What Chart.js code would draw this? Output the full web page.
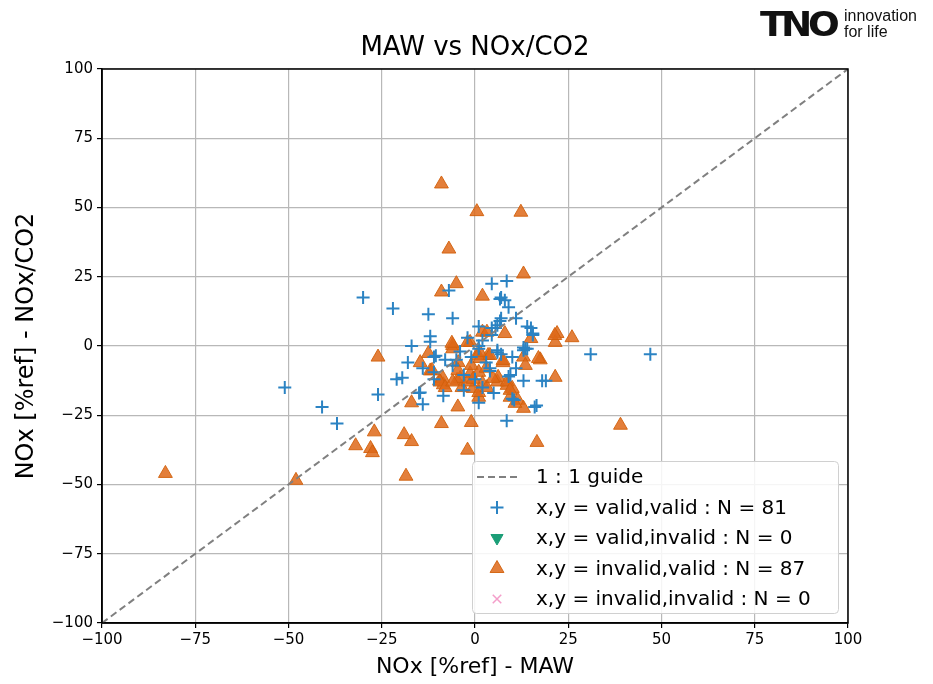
<!DOCTYPE html>
<html>
<head>
<meta charset="utf-8">
<script src="https://cdn.jsdelivr.net/npm/chart.js@4"></script>
<style>
  body { margin: 0; background: #fff; }
  #wrap { position: relative; width: 933px; height: 684px; }
  #logo { position: absolute; left: 760px; top: 6px; font-family: "DejaVu Sans", sans-serif; color: #111; }
  #logo .tno { position: absolute; left: 0; top: -2px; font-weight: 900; font-size: 34px; letter-spacing: -4px; transform: scaleX(1.1); transform-origin: left; }
  #logo .tag { position: absolute; left: 84px; top: 2px; font-size: 16px; line-height: 16px; white-space: nowrap; font-family: "Liberation Sans", sans-serif; }
</style>
</head>
<body>
<div id="wrap">
  <canvas id="myChart" width="933" height="684"></canvas>
  <div id="logo"><span class="tno">TNO</span><span class="tag">innovation<br>for life</span></div>
</div>
<script>
// Values: NOx [%ref] MAW (x) vs NOx/CO2 (y)
const ticks = [-100, -75, -50, -25, 0, 25, 50, 75, 100];

const validValid = [
  [-51, -15], [-41, -22], [-37, -28], [-30, 17.5], [-26, -17.5], [-22, 13.5],
  [-21, -12], [-19.5, -11.5], [-18, -6], [-17, 0], [-15, -17], [-14.7, -16.8],
  [-14, -21], [-12.5, 11.5], [-12, 3.5], [-12, 1.5], [-11, -4], [-11, -9.5],
  [-11, -12], [-10.5, -3.5], [-8.5, -18], [-7, 20], [-6, 10], [-6, -7],
  [-3, -10.5], [-1, -4], [1, 7], [1, 0], [1, -1], [1, -20.5], [4.5, 22.5],
  [4.5, 6.5], [4.5, 4], [4, -8], [4, -9], [5.5, 6.5], [6, 7.5], [6, -1.5],
  [6, -2.3], [6.7, 17], [7, 17.5], [8, 16.5], [7, 10], [6.7, 9], [7, -3],
  [8.5, 23.5], [9, 14], [9, -11], [9.5, -10.5], [10, -4], [10, -19],
  [10.5, -19.5], [11, 10], [8.5, -27], [13, -1.5], [13.5, -1], [13, -0.5],
  [13, -12.5], [14, -1], [14, 7], [15, 6.5], [15.5, 4], [15.5, 4.5], [16, -22],
  [16.5, -21.5], [18, -12.5], [19, -12.5], [31, -3], [47, -3],
  [-2, 3], [2, 2], [3, -6], [-4, -2], [-8, -5], [0, -12], [2, -15], [-3, -16],
  [5, -17], [11, -8], [-14, -8], [-5, -5]
];

const validInvalid = [];

const invalidValid = [
  [-83, -46], [-48, -48.5], [-9, 58.5], [0.5, 48.5], [12.3, 48.3], [-7, 35],
  [-9, 19.5], [-5, 22.5], [2, 18], [13, 26], [-26, -4], [-17, -20.5], [-9, -28],
  [-27, -31], [-32, -36], [-28, -37], [-27.5, -38.5], [-19, -32], [-17, -34.5],
  [-18.5, -47], [-12.5, -2.7], [-14.7, -6], [-12, -9], [-9.5, -12.5],
  [-8.5, -14], [2, 5], [8, 4.5], [15, 2.7], [22, 4.5], [26, 3], [21.5, 1.3],
  [-1.3, 1.3], [-6, 0.2], [-4.5, -6], [0.5, -3.4], [3.5, -3.4], [7.5, -6],
  [13, -4], [13.5, -7], [17.5, -5], [21.5, -11.3], [-4.8, -12.4], [-3.5, -15],
  [-1.3, -10], [2, -13.5], [-0.5, -15.3], [6, -13], [8.6, -14.2], [10, -15.3],
  [9.4, -18.5], [11.5, -19.6], [13, -22.5], [-4.6, -22], [1, -18.5],
  [-1, -27.6], [-2, -37.6], [16.6, -34.8], [39, -28.6], [-8.6, -11.7],
  [-9.4, -13], [-8, -15], [-4, -11.7], [-2, -13], [-1, -7], [1, -9.5],
  [1.3, -4.5], [-4.6, -8.8], [-11.5, -8.8], [-6, -1], [1, -16.8], [1.3, -2.3],
  [4, -3.4], [7.5, -5.2], [17, -4.5], [6.2, -11.3], [8.6, -13], [9.4, -16],
  [10.7, -20.7], [3.2, -15], [4.8, -11.7], [21.4, 3.8], [3.2, 5], [-6.2, 1],
  [-2, 1.3], [-0.5, -12], [3, -8], [-6, -13]
];

const invalidInvalid = [];

const guide = [[-100, -100], [100, 100]];

const toPts = (arr) => arr.map(([x, y]) => ({ x, y }));
const minus = (v) => String(v).replace("-", "\u2212");

// Draw a matplotlib-like legend box inside the plot area
const boxLegend = {
  id: "boxLegend",
  afterDraw(chart) {
    const ctx = chart.ctx;
    const x0 = 472, y0 = 461, w = 366, h = 152;
    ctx.save();
    ctx.fillStyle = "rgba(255,255,255,0.85)";
    ctx.strokeStyle = "#d0d0d0";
    ctx.lineWidth = 1;
    ctx.beginPath();
    ctx.roundRect(x0 + 0.5, y0 + 0.5, w, h, 4);
    ctx.fill();
    ctx.stroke();

    ctx.font = "20px 'DejaVu Sans'";
    ctx.textBaseline = "middle";
    chart.data.datasets.forEach((ds, i) => {
      const y = y0 + 16 + i * 30.5;
      if (ds.type === "line") {
        ctx.strokeStyle = ds.borderColor;
        ctx.lineWidth = ds.borderWidth;
        ctx.setLineDash(ds.borderDash);
        ctx.beginPath();
        ctx.moveTo(477, y);
        ctx.lineTo(517, y);
        ctx.stroke();
        ctx.setLineDash([]);
      } else {
        ctx.fillStyle = ds.backgroundColor;
        ctx.strokeStyle = ds.borderColor;
        ctx.lineWidth = ds.borderWidth;
        Chart.helpers.drawPoint(ctx, {
          pointStyle: ds.pointStyle,
          radius: ds.pointRadius,
          rotation: ds.rotation || 0,
          borderWidth: ds.borderWidth
        }, 497, y);
      }
      ctx.fillStyle = "#000";
      ctx.fillText(ds.label, 536, y + 1);
    });
    ctx.restore();
  }
};

// Title centred over the plot area, as matplotlib does
const axesTitle = {
  id: "axesTitle",
  afterDraw(chart) {
    const { left, right } = chart.chartArea;
    const c = chart.ctx;
    c.save();
    c.font = "26px 'DejaVu Sans'";
    c.fillStyle = "#000";
    c.textAlign = "center";
    c.textBaseline = "middle";
    c.fillText("MAW vs NOx/CO2", (left + right) / 2, 48);
    c.restore();
  }
};

const ctx = document.getElementById("myChart").getContext("2d");

new Chart(ctx, {
  type: "scatter",
  data: {
    datasets: [
      {
        type: "line",
        label: "1 : 1 guide",
        data: toPts(guide),
        borderColor: "#808080",
        borderWidth: 2,
        borderDash: [7, 4],
        pointRadius: 0,
        fill: false
      },
      {
        label: "x,y = valid,valid : N = 81",
        data: toPts(validValid),
        pointStyle: "cross",
        pointRadius: 6.5,
        borderColor: "#2b83c3",
        backgroundColor: "#2b83c3",
        borderWidth: 2
      },
      {
        label: "x,y = valid,invalid : N = 0",
        data: toPts(validInvalid),
        pointStyle: "triangle",
        rotation: 180,
        pointRadius: 7,
        borderColor: "#1b9e77",
        backgroundColor: "#1b9e77",
        borderWidth: 1
      },
      {
        label: "x,y = invalid,valid : N = 87",
        data: toPts(invalidValid),
        pointStyle: "triangle",
        pointRadius: 8,
        borderColor: "rgba(210,95,10,0.9)",
        backgroundColor: "rgba(222,105,25,0.85)",
        borderWidth: 1
      },
      {
        label: "x,y = invalid,invalid : N = 0",
        data: toPts(invalidInvalid),
        pointStyle: "crossRot",
        pointRadius: 6,
        borderColor: "rgba(231,41,138,0.45)",
        backgroundColor: "rgba(231,41,138,0.45)",
        borderWidth: 1.5
      }
    ]
  },
  options: {
    responsive: false,
    animation: false,
    layout: { padding: { left: 12, right: 85, top: 69, bottom: 4 } },
    plugins: {
      legend: { display: false },
      tooltip: { enabled: false },
      title: { display: false }
    },
    scales: {
      x: {
        type: "linear",
        min: -100,
        max: 100,
        afterBuildTicks: (s) => { s.ticks = ticks.map((v) => ({ value: v })); },
        afterFit: (s) => { s.height = 57; },
        ticks: {
          color: "#000",
          font: { family: "DejaVu Sans", size: 15 },
          padding: 3,
          callback: (v) => minus(v)
        },
        grid: { color: "#b8b8b8", lineWidth: 1.2, tickColor: "#000", tickLength: 5 },
        border: { color: "#000", width: 1.5 },
        title: {
          display: true,
          text: "NOx [%ref] - MAW",
          color: "#000",
          font: { family: "DejaVu Sans", size: 22 },
          padding: { top: 1, bottom: 0 }
        }
      },
      y: {
        type: "linear",
        min: -100,
        max: 100,
        afterBuildTicks: (s) => { s.ticks = ticks.map((v) => ({ value: v })); },
        afterFit: (s) => { s.width = 90; },
        ticks: {
          color: "#000",
          font: { family: "DejaVu Sans", size: 15 },
          padding: 4,
          callback: (v) => minus(v)
        },
        grid: { color: "#b8b8b8", lineWidth: 1.2, tickColor: "#000", tickLength: 5 },
        border: { color: "#000", width: 1.5 },
        title: {
          display: true,
          text: "NOx [%ref] - NOx/CO2",
          color: "#000",
          font: { family: "DejaVu Sans", size: 24 },
          padding: { top: 0, bottom: 2 }
        }
      }
    }
  },
  plugins: [
    boxLegend,
    axesTitle,
    {
      // frame on top and right like matplotlib axes
      id: "frame",
      afterDatasetsDraw(chart) {
        const { left, right, top, bottom } = chart.chartArea;
        const c = chart.ctx;
        c.save();
        c.strokeStyle = "#000";
        c.lineWidth = 1.5;
        c.strokeRect(left, top, right - left, bottom - top);
        c.restore();
      }
    }
  ]
});
</script>
</body>
</html>
